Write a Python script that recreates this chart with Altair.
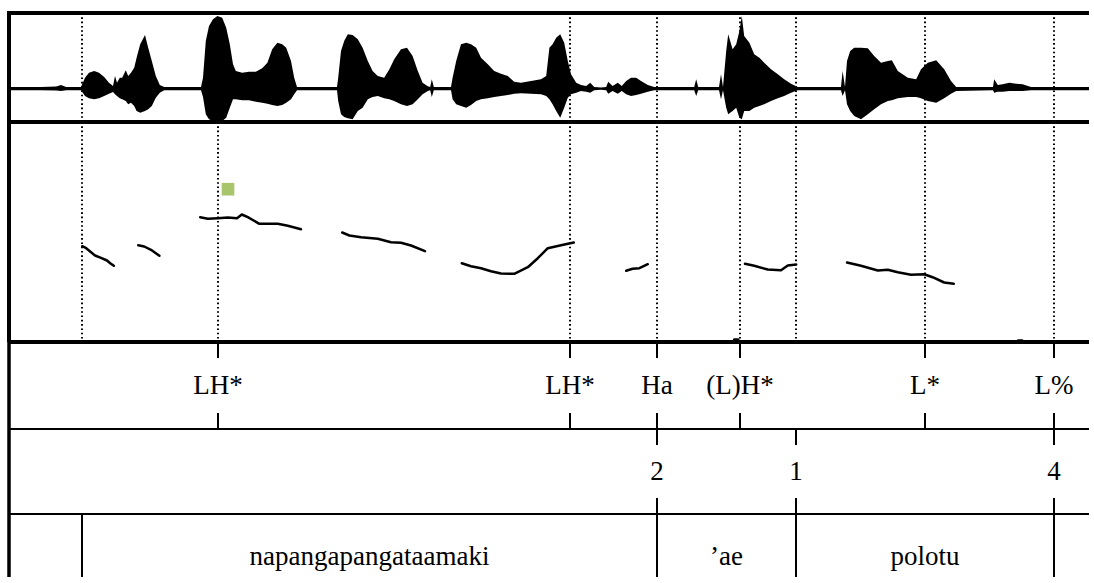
import altair as alt
import pandas as pd

# ---- time axis (seconds) ------------------------------------------------
T_END = 2.70

# ---- waveform envelope: time, upper and lower amplitude -----------------
wave_t = [0.000, 0.080, 0.118, 0.130, 0.143, 0.180, 0.190, 0.200, 0.213, 0.225,
          0.238, 0.250, 0.260, 0.265, 0.270, 0.277, 0.283, 0.292, 0.298, 0.305,
          0.313, 0.319, 0.328, 0.340, 0.348, 0.357, 0.367, 0.377, 0.388, 0.480,
          0.485, 0.492, 0.500, 0.510, 0.521, 0.533, 0.543, 0.552, 0.560, 0.567,
          0.583, 0.600, 0.617, 0.633, 0.646, 0.658, 0.671, 0.683, 0.693, 0.705,
          0.713, 0.720, 0.820, 0.823, 0.830, 0.838, 0.847, 0.859, 0.872, 0.884,
          0.897, 0.909, 0.922, 0.938, 0.951, 0.963, 0.980, 0.995, 1.009, 1.022,
          1.034, 1.047, 1.053, 1.057, 1.062, 1.105, 1.109, 1.118, 1.130, 1.143,
          1.155, 1.168, 1.180, 1.197, 1.213, 1.230, 1.247, 1.263, 1.280, 1.305,
          1.330, 1.343, 1.351, 1.359, 1.368, 1.378, 1.388, 1.397, 1.405, 1.418,
          1.430, 1.443, 1.453, 1.463, 1.480, 1.493, 1.498, 1.509, 1.522, 1.532,
          1.543, 1.555, 1.568, 1.580, 1.597, 1.613, 1.713, 1.718, 1.723, 1.775,
          1.780, 1.785, 1.793, 1.798, 1.809, 1.818, 1.826, 1.832, 1.838, 1.851,
          1.863, 1.876, 1.888, 1.905, 1.922, 1.938, 1.955, 1.972, 2.080, 2.084,
          2.090, 2.095, 2.103, 2.113, 2.130, 2.147, 2.163, 2.180, 2.197, 2.207,
          2.222, 2.247, 2.268, 2.280, 2.297, 2.318, 2.338, 2.355, 2.368, 2.460,
          2.463, 2.472, 2.484, 2.501, 2.518, 2.534, 2.555, 2.700]
wave_hi = [0.017, 0.017, 0.022, 0.037, 0.017, 0.017, 0.110, 0.160, 0.177, 0.160,
           0.117, 0.060, 0.027, 0.127, 0.060, 0.110, 0.110, 0.184, 0.127, 0.160,
           0.210, 0.310, 0.444, 0.537, 0.410, 0.277, 0.127, 0.037, 0.017, 0.017,
           0.110, 0.477, 0.627, 0.694, 0.727, 0.710, 0.610, 0.444, 0.244, 0.177,
           0.160, 0.170, 0.170, 0.204, 0.260, 0.394, 0.460, 0.444, 0.410, 0.277,
           0.110, 0.017, 0.017, 0.110, 0.377, 0.477, 0.544, 0.537, 0.494, 0.410,
           0.277, 0.177, 0.127, 0.110, 0.194, 0.294, 0.394, 0.410, 0.327, 0.177,
           0.060, 0.024, 0.017, 0.094, 0.017, 0.017, 0.110, 0.277, 0.444, 0.460,
           0.444, 0.410, 0.310, 0.244, 0.177, 0.150, 0.127, 0.070, 0.060, 0.077,
           0.094, 0.127, 0.410, 0.444, 0.510, 0.544, 0.460, 0.277, 0.144, 0.060,
           0.037, 0.027, 0.060, 0.017, 0.012, 0.017, 0.070, 0.027, 0.060, 0.027,
           0.077, 0.110, 0.110, 0.077, 0.037, 0.017, 0.017, 0.094, 0.017, 0.017,
           0.144, 0.017, 0.377, 0.544, 0.394, 0.444, 0.577, 0.727, 0.527, 0.460,
           0.344, 0.310, 0.260, 0.194, 0.144, 0.094, 0.050, 0.017, 0.017, 0.177,
           0.017, 0.277, 0.377, 0.410, 0.410, 0.404, 0.327, 0.260, 0.277, 0.284,
           0.177, 0.110, 0.094, 0.194, 0.260, 0.284, 0.194, 0.077, 0.017, 0.017,
           0.094, 0.037, 0.044, 0.060, 0.050, 0.044, 0.017, 0.017]
wave_lo = [-0.016, -0.016, -0.018, -0.023, -0.016, -0.016, -0.073, -0.096, -0.106, -0.096,
           -0.073, -0.050, -0.033, -0.056, -0.073, -0.096, -0.106, -0.123, -0.156, -0.140,
           -0.173, -0.223, -0.240, -0.223, -0.206, -0.173, -0.090, -0.040, -0.016, -0.016,
           -0.083, -0.256, -0.306, -0.323, -0.323, -0.323, -0.290, -0.190, -0.106, -0.106,
           -0.116, -0.116, -0.130, -0.140, -0.150, -0.163, -0.173, -0.163, -0.140, -0.106,
           -0.056, -0.016, -0.016, -0.123, -0.256, -0.283, -0.296, -0.306, -0.223, -0.190,
           -0.106, -0.083, -0.073, -0.096, -0.106, -0.123, -0.156, -0.173, -0.156, -0.106,
           -0.056, -0.023, -0.016, -0.083, -0.016, -0.016, -0.106, -0.156, -0.173, -0.190,
           -0.163, -0.123, -0.106, -0.096, -0.083, -0.073, -0.063, -0.050, -0.046, -0.050,
           -0.056, -0.073, -0.106, -0.156, -0.223, -0.290, -0.190, -0.090, -0.056, -0.040,
           -0.023, -0.030, -0.040, -0.016, -0.010, -0.016, -0.050, -0.023, -0.050, -0.023,
           -0.056, -0.073, -0.063, -0.050, -0.030, -0.016, -0.016, -0.073, -0.016, -0.016,
           -0.106, -0.016, -0.190, -0.256, -0.223, -0.190, -0.290, -0.306, -0.223, -0.223,
           -0.190, -0.173, -0.156, -0.123, -0.096, -0.073, -0.040, -0.016, -0.016, -0.073,
           -0.016, -0.156, -0.223, -0.273, -0.306, -0.256, -0.206, -0.156, -0.123, -0.116,
           -0.096, -0.083, -0.083, -0.096, -0.123, -0.140, -0.096, -0.050, -0.023, -0.016,
           -0.040, -0.030, -0.030, -0.023, -0.023, -0.023, -0.016, -0.016]

# ---- pitch track (Hz), split into voiced stretches ----------------------
pitch_seg = [1] * 7 + [2] * 4 + [3] * 12 + [4] * 8 + [5] * 11 + [6] * 4 + [7] * 6 + [8] * 10 + [9] * 2 + [10] * 2
pitch_t = [0.183, 0.193, 0.215, 0.230, 0.245, 0.253, 0.262,
           0.323, 0.338, 0.355, 0.376,
           0.478, 0.497, 0.522, 0.547, 0.570, 0.582, 0.597, 0.626, 0.647, 0.672, 0.697, 0.730,
           0.833, 0.851, 0.880, 0.922, 0.955, 0.980, 1.005, 1.040,
           1.132, 1.155, 1.180, 1.205, 1.230, 1.263, 1.297, 1.322, 1.347, 1.380, 1.412,
           1.543, 1.559, 1.576, 1.597,
           1.840, 1.863, 1.897, 1.930, 1.947, 1.968,
           2.095, 2.130, 2.172, 2.197, 2.222, 2.255, 2.288, 2.309, 2.338, 2.362,
           1.813, 1.823,
           2.523, 2.533]
pitch_hz = [145.8, 143.8, 136.5, 134.2, 131.5, 128.8, 126.2,
            146.8, 145.5, 142.2, 136.2,
            174.8, 173.2, 173.8, 174.5, 173.8, 177.5, 174.8, 168.2, 168.2, 168.2, 166.2, 162.8,
            159.5, 156.5, 154.8, 153.2, 149.8, 149.2, 146.5, 140.8,
            128.8, 125.8, 123.8, 120.8, 118.5, 118.2, 124.8, 133.8, 143.8, 146.8, 149.5,
            121.2, 123.2, 123.8, 127.8,
            128.2, 126.2, 122.5, 121.8, 126.5, 127.5,
            129.5, 126.2, 121.5, 122.2, 119.8, 117.2, 117.8, 114.8, 109.5, 108.2,
            52.5, 52.5,
            51.5, 51.5]
PITCH_MIN, PITCH_MAX = 50, 270

# highlighted pitch target
target_t = [0.5475]
target_hz = [202.8]

# ---- annotation tiers ---------------------------------------------------
marks_t = [0.1825, 0.5225, 1.4025, 1.62, 1.8275, 1.9675, 2.29, 2.6125]

tone_t = [0.5225, 1.4025, 1.62, 1.8275, 2.29, 2.6125]
tone_lab = ["LH*", "LH*", "Ha", "(L)H*", "L*", "L%"]

break_t = [1.62, 1.9675, 2.6125]
break_lab = ["2", "1", "4"]

word_start = [0.0, 0.1825, 1.62, 1.9675]
word_end = [0.1825, 1.62, 1.9675, 2.6125]
word_lab = ["", "napangapangataamaki", "\u2019ae", "polotu"]

# ---- layout -------------------------------------------------------------
W = 1080
H_WAVE, H_PITCH, H_TONE, H_BREAK, H_WORD = 109, 220, 87, 85, 63
FONT = "Liberation Serif"
FS = 27
TICK = 16

xscale = alt.Scale(domain=[0, T_END], nice=False, zero=False)


def X(field="t"):
    return alt.X(f"{field}:Q", scale=xscale, axis=None)


frame = pd.DataFrame({"k": [0]})


def top_line(width):
    return alt.Chart(frame).mark_rule(color="black", strokeWidth=width).encode(y=alt.value(0))


def left_line(width, cap="butt"):
    return alt.Chart(frame).mark_rule(color="black", strokeWidth=width, strokeCap=cap).encode(x=alt.value(0))


marks_df = pd.DataFrame({"t": marks_t})
dotted = alt.Chart(marks_df).mark_rule(color="black", strokeWidth=2, strokeDash=[1.6, 2.7]).encode(x=X())

# waveform panel
wave_df = pd.DataFrame({"t": wave_t, "hi": wave_hi, "lo": wave_lo})
wave_area = alt.Chart(wave_df).mark_area(color="black", clip=True, interpolate="linear").encode(
    x=X(),
    y=alt.Y("hi:Q", scale=alt.Scale(domain=[-0.333, 0.757], nice=False, zero=False), axis=None),
    y2="lo:Q",
)
wave_panel = alt.layer(dotted, wave_area, top_line(4), left_line(4, "square")).properties(
    width=W, height=H_WAVE
)

# pitch panel
pitch_df = pd.DataFrame({"t": pitch_t, "hz": pitch_hz, "seg": pitch_seg})
yp = alt.Scale(domain=[PITCH_MIN, PITCH_MAX], nice=False, zero=False)
pitch_line = alt.Chart(pitch_df).mark_line(
    color="black", strokeWidth=2.5, clip=True, strokeJoin="round", strokeCap="round"
).encode(x=X(), y=alt.Y("hz:Q", scale=yp, axis=None), detail="seg:N")
target_df = pd.DataFrame({"t": target_t, "hz": target_hz})
target = alt.Chart(target_df).mark_point(
    shape="square", filled=True, color="#a9c56b", opacity=1, size=160
).encode(x=X(), y=alt.Y("hz:Q", scale=yp, axis=None))
pitch_panel = alt.layer(dotted, pitch_line, target, top_line(4), left_line(4)).properties(
    width=W, height=H_PITCH
)


def tick_layers(df, h):
    base = alt.Chart(df).mark_rule(color="black", strokeWidth=2)
    return [
        base.encode(x=X(), y=alt.value(0), y2=alt.value(TICK)),
        base.encode(x=X(), y=alt.value(h - TICK), y2=alt.value(h)),
    ]


def label_layer(df, h_mid, field="t"):
    return alt.Chart(df).mark_text(
        font=FONT, fontSize=FS, color="black", align="center", baseline="middle"
    ).encode(x=X(field), y=alt.value(h_mid), text="lab:N")


# tone tier
tone_df = pd.DataFrame({"t": tone_t, "lab": tone_lab})
tone_panel = alt.layer(
    *tick_layers(tone_df, H_TONE), label_layer(tone_df, 43.5), top_line(4), left_line(3.5)
).properties(width=W, height=H_TONE)

# break-index tier
break_df = pd.DataFrame({"t": break_t, "lab": break_lab})
break_panel = alt.layer(
    *tick_layers(break_df, H_BREAK), label_layer(break_df, 42.5), top_line(2), left_line(3.5)
).properties(width=W, height=H_BREAK)

# word tier
word_df = pd.DataFrame({"start": word_start, "end": word_end, "lab": word_lab})
word_df["mid"] = (word_df["start"] + word_df["end"]) / 2
bounds_df = pd.DataFrame({"t": word_end})
word_bounds = alt.Chart(bounds_df).mark_rule(color="black", strokeWidth=2).encode(x=X())
word_panel = alt.layer(
    word_bounds, label_layer(word_df, 42.5, "mid"), top_line(2), left_line(3.5)
).properties(width=W, height=H_WORD)

chart = (
    alt.vconcat(wave_panel, pitch_panel, tone_panel, break_panel, word_panel, spacing=0, bounds="flush")
    .resolve_scale(y="independent")
    .properties(padding={"left": 6, "top": 10, "right": 0, "bottom": 0}, background="white")
    .configure_view(stroke="transparent", strokeWidth=0)
)

chart.save("out.html", embed_options={"renderer": "svg", "actions": False})
